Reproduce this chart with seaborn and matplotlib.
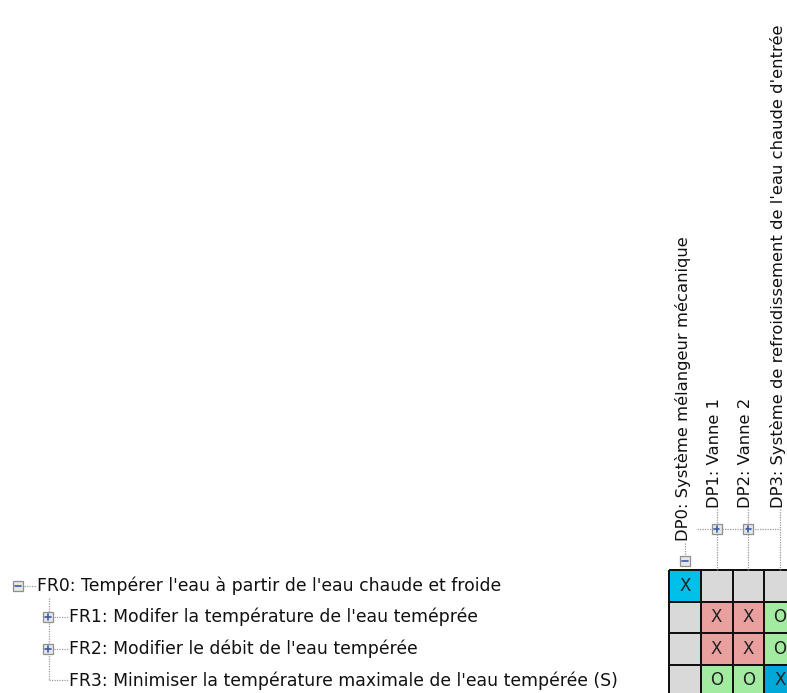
import numpy as np
import matplotlib
matplotlib.use("Agg")
import matplotlib.pyplot as plt
from matplotlib.colors import ListedColormap
from matplotlib.patches import Rectangle
import seaborn as sns

sns.set_style("white")
plt.rcParams['font.family'] = ['DejaVu Sans']

# design matrix data
fr_labels = ["FR0: Tempérer l'eau à partir de l'eau chaude et froide",
             "FR1: Modifer la température de l'eau teméprée",
             "FR2: Modifier le débit de l'eau tempérée",
             "FR3: Minimiser la température maximale de l'eau tempérée (S)"]
dp_labels = ["DP0: Système mélangeur mécanique",
             "DP1: Vanne 1",
             "DP2: Vanne 2",
             "DP3: Système de refroidissement de l'eau chaude d'entrée"]
fr_expandable = [False, True, True, False]
dp_expandable = [False, True, True, False]
cells = [["X", "", "", ""],
         ["", "X", "X", "O"],
         ["", "X", "X", "O"],
         ["", "O", "O", "X"]]
selected = (3, 3)

# colour code per cell: 0 empty, 1 single X, 2 coupled X, 3 O, 4 selected
codes = np.zeros((4, 4))
for i, row in enumerate(cells):
    n_x = row.count("X")
    for j, v in enumerate(row):
        if v == "X":
            codes[i, j] = 1 if n_x == 1 else 2
        elif v == "O":
            codes[i, j] = 3
codes[selected] = 4
cmap = ListedColormap(["#d9d9d9", "#00bfe9", "#e9a09e", "#a3eba0", "#00a7d9"])

W, H = 787, 693
fig = plt.figure(figsize=(W / 100, H / 100), dpi=100)
cw, ch = 31.75, 31.5
x0, y0 = 669, 570
ax = fig.add_axes([x0 / W, 1 - (y0 + 4 * ch) / H, 4 * cw / W, 4 * ch / H])
sns.heatmap(codes, ax=ax, cmap=cmap, vmin=-0.5, vmax=4.5, cbar=False,
            annot=np.array(cells), fmt="", linewidths=1.1, linecolor="#111111",
            annot_kws={"fontsize": 12, "color": "#222222"},
            xticklabels=False, yticklabels=False)
for c in ax.collections:
    c.set_clip_on(False)

fs = 12.4
fs_dp = 11.8
dot = dict(color="#9a9a9a", lw=0.9, ls=(0, (1, 1)), clip_on=False, zorder=1)


def px(x):
    return (x - x0) / cw


def py(y):
    return (y - y0) / ch


def icon(x, y, expanded):
    s = 0.32
    ax.add_patch(Rectangle((x - s / 2, y - s / 2), s, s, facecolor="#e6e6e6",
                           edgecolor="#8f8f8f", lw=0.9, clip_on=False, zorder=3))
    ax.plot([x - 0.09, x + 0.09], [y, y], color="#3a5aa8", lw=1.2,
            clip_on=False, zorder=4)
    if not expanded:
        ax.plot([x, x], [y - 0.09, y + 0.09], color="#3a5aa8", lw=1.2,
                clip_on=False, zorder=4)


# column headers (rotated tree)
ax.text(0.45, py(541), dp_labels[0], rotation=90, ha="center", va="bottom",
        fontsize=fs_dp, color="#111111", clip_on=False)
ax.plot([0.5, 0.5], [py(543), py(556)], **dot)
icon(0.5, py(561), True)
ax.plot([px(697), 3.5], [py(529), py(529)], **dot)
for j in range(1, 4):
    ax.text(j + 0.42, py(508), dp_labels[j], rotation=90, ha="center",
            va="bottom", fontsize=fs_dp, color="#111111", clip_on=False)
    ax.plot([j + 0.5, j + 0.5], [py(509), 0], **dot)
    if dp_expandable[j]:
        icon(j + 0.5, py(529), False)

# row headers (tree)
ax.text(px(37), 0.5, fr_labels[0], ha="left", va="center", fontsize=fs,
        color="#111111", clip_on=False)
icon(px(18), 0.5, True)
ax.plot([px(24), px(36)], [0.5, 0.5], **dot)
ax.plot([px(49), px(49)], [py(598), 3.5], **dot)
for i in range(1, 4):
    ax.text(px(69), i + 0.5, fr_labels[i], ha="left", va="center",
            fontsize=fs, color="#111111", clip_on=False)
    ax.plot([px(49), px(68)], [i + 0.5, i + 0.5], **dot)
    if fr_expandable[i]:
        icon(px(48), i + 0.5, False)

fig.savefig("out.png", dpi=100)
